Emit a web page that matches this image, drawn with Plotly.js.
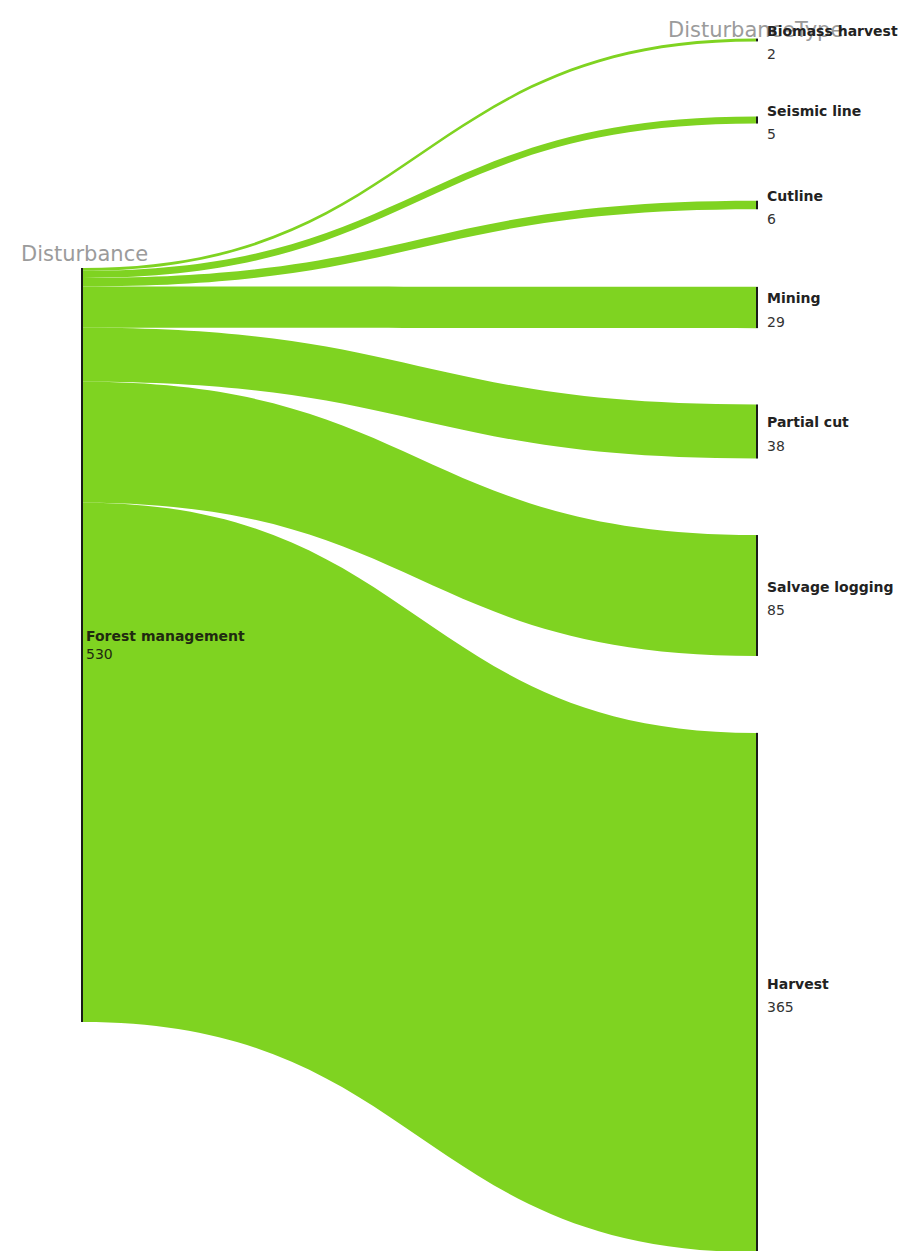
<!DOCTYPE html>
<html>
<head>
<meta charset="utf-8">
<script src="https://cdn.plot.ly/plotly-3.0.1.min.js"></script>
<style>html,body{margin:0;padding:0;background:#fff;}#chart{width:921px;height:1251px;}</style>
</head>
<body>
<div id="chart"></div>
<script>
// Data
var sourceName = "Forest management";
var targetNames = ["Biomass harvest", "Seismic line", "Cutline", "Mining", "Partial cut", "Salvage logging", "Harvest"];
var flowValues = [2, 5, 6, 29, 38, 85, 365];
var columnHeaders = ["Disturbance", "DisturbanceType"];

// Layout positions (pixels in the 921x1251 page)
var W = 921, H = 1251;
var sourceX = 82, targetX = 757;
var sourceY = 645;
var targetYs = [40, 120, 205, 307.5, 431.5, 595.5, 992.5];
var FONT = "'DejaVu Sans', Verdana, sans-serif";

var total = flowValues.reduce(function (a, b) { return a + b; }, 0);
// Source label drawn by the sankey itself; target labels are placed to the right of
// their nodes with annotations (plotly would put last-column labels on the left).
var labels = ["<b>" + sourceName + "</b><br>" + total];
targetNames.forEach(function () { labels.push(""); });

var nodeX = [sourceX / W], nodeY = [sourceY / H];
targetNames.forEach(function (n, i) { nodeX.push(targetX / W); nodeY.push(targetYs[i] / H); });

var src = [], tgt = [];
targetNames.forEach(function (n, i) { src.push(0); tgt.push(i + 1); });

// scale: want ~1.4226 px per unit => H - 6*pad = 1.4226*total
var pad = (H - 1.4226 * total) / 6;

var trace = {
  type: "sankey",
  arrangement: "fixed",
  orientation: "h",
  domain: {x: [0, 1], y: [0, 1]},
  hoverinfo: "none",
  textfont: {family: FONT, size: 14, color: "#1f2a10", shadow: "none"},
  node: {
    label: labels,
    x: nodeX,
    y: nodeY,
    pad: pad,
    thickness: 2,
    color: "#1a1a1a",
    line: {width: 0},
    hoverinfo: "none"
  },
  link: {
    source: src,
    target: tgt,
    value: flowValues,
    color: "rgb(127,211,33)",
    hoverinfo: "none"
  }
};

var annotations = [
  {text: columnHeaders[0], xref: "paper", yref: "paper", x: 19 / W, y: 1 - 254 / H,
   xanchor: "left", yanchor: "middle", showarrow: false,
   font: {family: FONT, size: 21, color: "#9b9b9b"}},
  {text: columnHeaders[1], xref: "paper", yref: "paper", x: 666 / W, y: 1 - 30 / H,
   xanchor: "left", yanchor: "middle", showarrow: false,
   font: {family: FONT, size: 21, color: "#9b9b9b"}}
];
targetNames.forEach(function (n, i) {
  annotations.push({text: "<b>" + n + "</b>", xref: "paper", yref: "paper",
    x: 765 / W, y: 1 - (targetYs[i] - 9) / H, xanchor: "left", yanchor: "middle",
    showarrow: false, font: {family: FONT, size: 14, color: "#222"}});
  annotations.push({text: String(flowValues[i]), xref: "paper", yref: "paper",
    x: 765 / W, y: 1 - (targetYs[i] + 14) / H, xanchor: "left", yanchor: "middle",
    showarrow: false, font: {family: FONT, size: 14, color: "#333"}});
});

var layout = {
  width: W,
  height: H,
  margin: {l: 0, r: 0, t: 0, b: 0},
  paper_bgcolor: "#fff",
  showlegend: false,
  annotations: annotations
};

Plotly.newPlot("chart", [trace], layout, {displayModeBar: false, staticPlot: true});
</script>
</body>
</html>
